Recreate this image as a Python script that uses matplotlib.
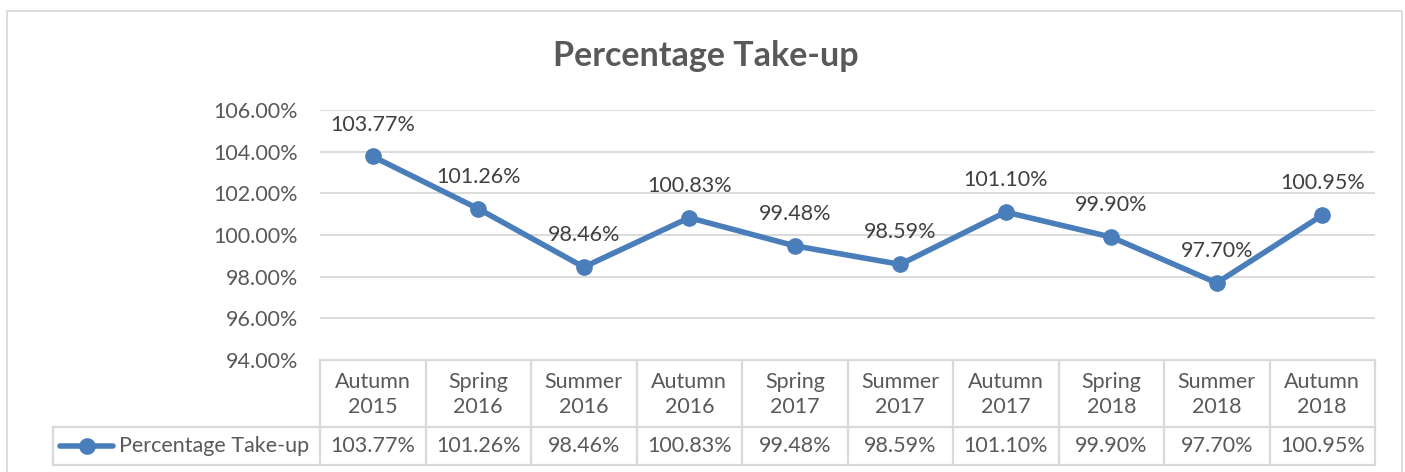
import matplotlib.pyplot as plt
from matplotlib.ticker import FuncFormatter

plt.rcParams['font.family'] = ['Lato', 'DejaVu Sans']

seasons = ['Autumn\n2015', 'Spring\n2016', 'Summer\n2016', 'Autumn\n2016', 'Spring\n2017',
           'Summer\n2017', 'Autumn\n2017', 'Spring\n2018', 'Summer\n2018', 'Autumn\n2018']
take_up = [103.77, 101.26, 98.46, 100.83, 99.48, 98.59, 101.10, 99.90, 97.70, 100.95]
series_name = 'Percentage Take-up'

blue = '#4A7EBB'
grey_txt = '#595959'
grid_col = '#D9D9D9'
fs = 15.5

W, H = 1405, 472
fig = plt.figure(figsize=(W / 100, H / 100), dpi=100)

# helper layer in pixel coordinates for border and data table
bg = fig.add_axes([0, 0, 1, 1])
bg.set_xlim(0, W)
bg.set_ylim(H, 0)
bg.axis('off')

# plot area
left, right, top, bottom = 320, 1375, 110, 360
ax = fig.add_axes([left / W, 1 - bottom / H, (right - left) / W, (bottom - top) / H])
x = [i + 0.5 for i in range(len(take_up))]
ax.plot(x, take_up, color=blue, lw=4, marker='o', ms=11, solid_capstyle='round', zorder=3)
for xi, v in zip(x, take_up):
    ax.annotate(f'{v:.2f}%', (xi, v), xytext=(0, 23), textcoords='offset points',
                ha='center', va='center', fontsize=fs, color='#404040')

ax.set_xlim(0, len(take_up))
ax.set_ylim(94, 106)
ax.set_yticks(range(94, 107, 2))
ax.yaxis.set_major_formatter(FuncFormatter(lambda v, p: f'{v:.2f}%'))
ax.tick_params(axis='y', length=0, pad=16, labelsize=fs, labelcolor=grey_txt)
ax.set_xticks([])
ax.grid(axis='y', color=grid_col, lw=1.3)
ax.set_axisbelow(True)
for s in ax.spines.values():
    s.set_visible(False)

fig.text(706 / W, 1 - 56 / H, 'Percentage Take-up', ha='center', va='center',
         fontsize=24.5, fontweight='bold', color=grey_txt)

# outer chart border
bg.plot([7, 7, 1402, 1402], [H, 11, 11, H], color=grid_col, lw=1.3)

# data table
col_w = (right - left) / len(seasons)
row1, row2, row3 = 360, 427, 465
lw_t = 1.6
bg.plot([left, right], [row1, row1], color=grid_col, lw=lw_t)
bg.plot([53, right], [row2, row2], color=grid_col, lw=lw_t)
bg.plot([53, right], [row3, row3], color=grid_col, lw=lw_t)
bg.plot([53, 53], [row2, row3], color=grid_col, lw=lw_t)
for i in range(len(seasons) + 1):
    xc = left + i * col_w
    bg.plot([xc, xc], [row1, row3], color=grid_col, lw=lw_t)
for i, (lab, v) in enumerate(zip(seasons, take_up)):
    xc = left + (i + 0.5) * col_w
    bg.text(xc, (row1 + row2) / 2 + 1, lab, ha='center', va='center', fontsize=fs,
            color=grey_txt, linespacing=1.3)
    bg.text(xc, (row2 + row3) / 2, f'{v:.2f}%', ha='center', va='center', fontsize=fs,
            color=grey_txt)

# legend key in table
ly = (row2 + row3) / 2
bg.plot([60, 113], [ly, ly], color=blue, lw=4, solid_capstyle='round')
bg.plot([87], [ly], 'o', color=blue, ms=11)
bg.text(119, ly, series_name, ha='left', va='center', fontsize=fs, color=grey_txt)

fig.savefig('out.png', dpi=100, facecolor='white')
